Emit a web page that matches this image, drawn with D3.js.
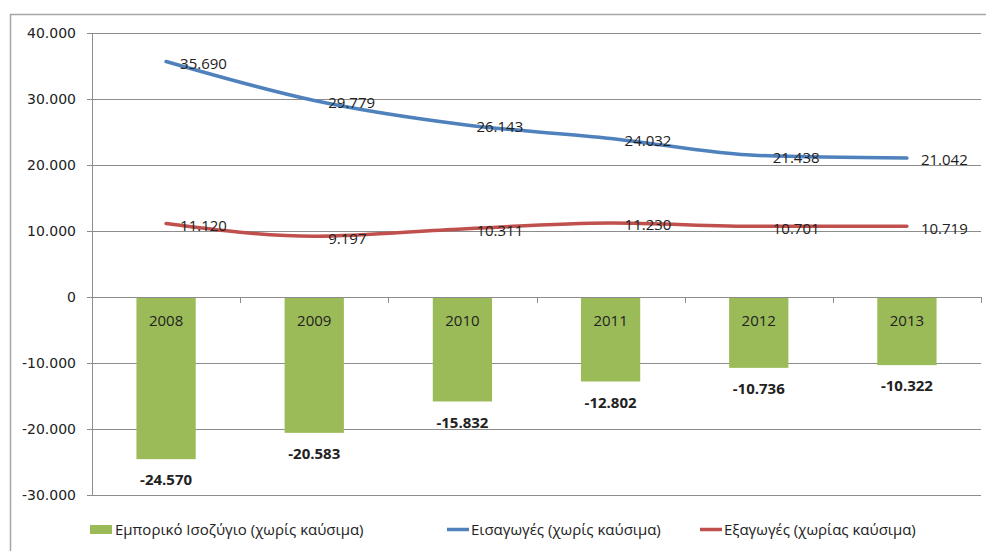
<!DOCTYPE html>
<html>
<head>
<meta charset="utf-8">
<script src="https://cdn.jsdelivr.net/npm/d3@7"></script>
<style>
  body { margin: 0; background: #fff; }
</style>
</head>
<body>
<div id="chart"></div>
<script>
var years = ['2008', '2009', '2010', '2011', '2012', '2013'];
var balance = [-24570, -20583, -15832, -12802, -10736, -10322];
var imports = [35690, 29779, 26143, 24032, 21438, 21042];
var exports = [11120, 9197, 10311, 11230, 10701, 10719];
var yTicks = [-30000, -20000, -10000, 0, 10000, 20000, 30000, 40000];

var width = 986,
    height = 551;

var svg = d3.select('#chart')
    .append('svg')
    .attr('width', width)
    .attr('height', height);

var locale = d3.formatLocale({ decimal: ',', thousands: '.', grouping: [3], currency: ['', '€'], minus: '-' });
var fmt = locale.format(',d');

var labelFont = '"Open Sans", sans-serif';
var plotLeft = 92, plotRight = 981, plotTop = 33, plotBottom = 495;

// outer chart border
svg.append('rect')
    .attr('x', 10.5).attr('y', 14.5)
    .attr('width', 1000).attr('height', 600)
    .attr('fill', 'none')
    .attr('stroke', '#a6a6a6')
    .attr('stroke-width', 1.5);

var x = d3.scaleBand().domain(years).range([plotLeft, plotRight]).paddingInner(0.6).paddingOuter(0.3);
var xc = function (d) { return x(d) + x.bandwidth() / 2; };
var y = d3.scaleLinear().domain([-30000, 40000]).range([plotBottom, plotTop]);

// gridlines
svg.append('g').selectAll('line')
    .data(yTicks)
    .enter().append('line')
    .attr('x1', plotLeft - 5).attr('x2', plotRight)
    .attr('y1', function (d) { return Math.round(y(d)) + 0.5; })
    .attr('y2', function (d) { return Math.round(y(d)) + 0.5; })
    .attr('stroke', '#8c8c8c');

// y axis line
svg.append('line')
    .attr('x1', plotLeft + 0.5).attr('x2', plotLeft + 0.5)
    .attr('y1', plotTop).attr('y2', plotBottom + 1)
    .attr('stroke', '#8c8c8c');

svg.append('g').selectAll('text')
    .data(yTicks)
    .enter().append('text')
    .attr('x', 76)
    .attr('y', function (d) { return y(d); })
    .attr('dy', '0.35em')
    .attr('text-anchor', 'end')
    .attr('font-family', '"DejaVu Sans", Verdana, sans-serif')
    .attr('font-size', 14)
    .attr('fill', '#222')
    .text(function (d) { return d === 0 ? '0' : fmt(d); });

// bars
svg.append('g').selectAll('rect')
    .data(balance)
    .enter().append('rect')
    .attr('x', function (d, i) { return x(years[i]); })
    .attr('width', x.bandwidth())
    .attr('y', y(0))
    .attr('height', function (d) { return y(d) - y(0); })
    .attr('fill', '#9bbb59');

// category ticks on zero line
var step = (plotRight - plotLeft) / years.length;
svg.append('g').selectAll('line')
    .data(d3.range(years.length + 1))
    .enter().append('line')
    .attr('x1', function (i) { return Math.round(plotLeft + i * step) + 0.5; })
    .attr('x2', function (i) { return Math.round(plotLeft + i * step) + 0.5; })
    .attr('y1', y(0)).attr('y2', y(0) + 6)
    .attr('stroke', '#8c8c8c');

// zero line
svg.append('line')
    .attr('x1', plotLeft).attr('x2', plotRight)
    .attr('y1', Math.round(y(0)) + 0.5).attr('y2', Math.round(y(0)) + 0.5)
    .attr('stroke', '#8c8c8c');

// year labels inside bars
svg.append('g').selectAll('text')
    .data(years)
    .enter().append('text')
    .attr('x', xc)
    .attr('y', y(0) + 24)
    .attr('dy', '0.35em')
    .attr('text-anchor', 'middle')
    .attr('font-family', labelFont)
    .attr('font-size', 15)
    .attr('fill', '#222')
    .text(function (d) { return d; });

// bar value labels
svg.append('g').selectAll('text')
    .data(balance)
    .enter().append('text')
    .attr('x', function (d, i) { return xc(years[i]); })
    .attr('y', function (d) { return y(d) + 21; })
    .attr('dy', '0.35em')
    .attr('text-anchor', 'middle')
    .attr('font-family', labelFont)
    .attr('font-weight', 'bold')
    .attr('font-size', 15)
    .attr('fill', '#222')
    .text(function (d) { return fmt(d); });

var line = d3.line()
    .x(function (d, i) { return xc(years[i]); })
    .y(function (d) { return y(d); })
    .curve(d3.curveMonotoneX);

function series(vals, color) {
    svg.append('path')
        .datum(vals)
        .attr('d', line)
        .attr('fill', 'none')
        .attr('stroke', color)
        .attr('stroke-width', 3.5)
        .attr('stroke-linecap', 'round');

    svg.append('g').selectAll('text')
        .data(vals)
        .enter().append('text')
        .attr('x', function (d, i) { return xc(years[i]) + 14; })
        .attr('y', function (d) { return y(d) + 2; })
        .attr('dy', '0.35em')
        .attr('font-family', labelFont)
        .attr('font-size', 15)
        .attr('fill', '#222')
        .text(function (d) { return fmt(d); });
}

series(imports, '#4f81bd');
series(exports, '#c0504d');

// legend
var legend = svg.append('g').attr('font-family', labelFont).attr('font-size', 15).attr('fill', '#222');
legend.append('rect').attr('x', 90).attr('y', 525).attr('width', 22).attr('height', 9).attr('fill', '#9bbb59');
legend.append('text').attr('x', 115).attr('y', 530).attr('dy', '0.35em').text('Εμπορικό Ισοζύγιο (χωρίς καύσιμα)');
legend.append('line').attr('x1', 447).attr('x2', 469).attr('y1', 529.5).attr('y2', 529.5).attr('stroke', '#4f81bd').attr('stroke-width', 3.5);
legend.append('text').attr('x', 471).attr('y', 530).attr('dy', '0.35em').text('Εισαγωγές (χωρίς καύσιμα)');
legend.append('line').attr('x1', 700).attr('x2', 722).attr('y1', 529.5).attr('y2', 529.5).attr('stroke', '#c0504d').attr('stroke-width', 3.5);
legend.append('text').attr('x', 724).attr('y', 530).attr('dy', '0.35em').text('Εξαγωγές (χωρίας καύσιμα)');
</script>
</body>
</html>
